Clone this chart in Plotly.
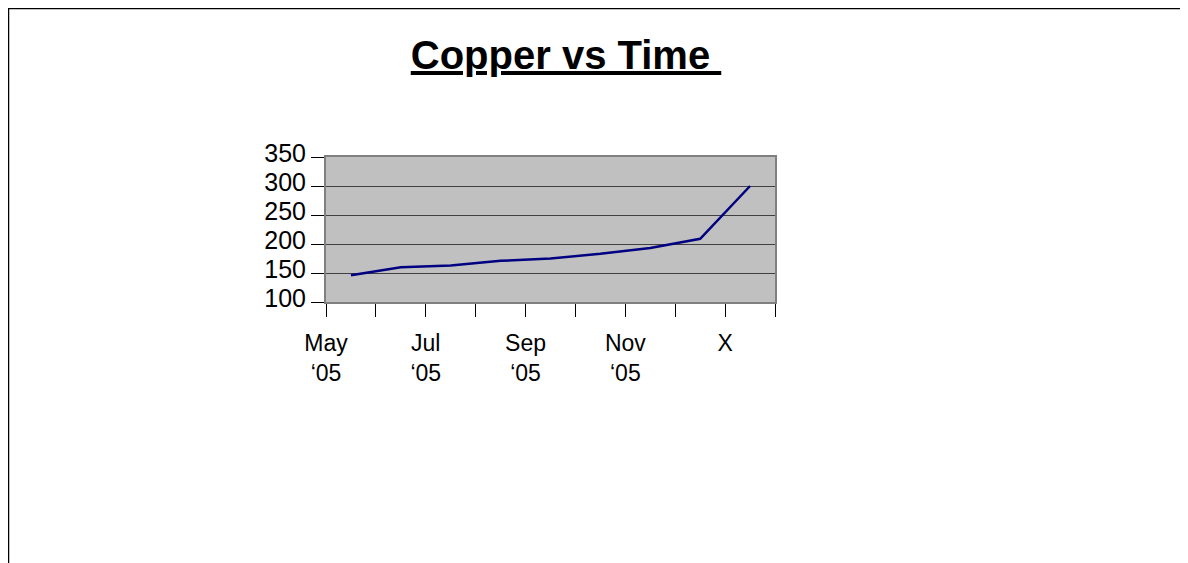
import plotly.graph_objects as go
import numpy as np

months = ["May '05", "Jun '05", "Jul '05", "Aug '05", "Sep '05", "Oct '05", "Nov '05", "Dec '05", "X"]
copper = [146, 160, 163, 171, 175, 183, 193, 209, 300]
x_tick_labels = ["May<br>‘05", "", "Jul<br>‘05", "", "Sep<br>‘05", "", "Nov<br>‘05", "", "X", ""]
y_ticks = [100, 150, 200, 250, 300, 350]

# page body has an 8px margin; lay the figure out in page pixels minus that offset
OFF = 8
W, H = 1188 - OFF, 563 - OFF
L, R, T, B = 326 - OFF, 775 - OFF, 157 - OFF, 302 - OFF

xpos = np.arange(len(copper)) + 0.5

fig = go.Figure()
fig.add_trace(go.Scatter(x=xpos, y=copper, mode="lines", text=months,
                         line=dict(color="#000080", width=2.5), hoverinfo="text+y"))

font = "Arial, 'Liberation Sans', sans-serif"

def px2paper_x(px):
    return (px - L) / (R - L)

def px2paper_y(py):
    return (B - py) / (B - T)

fig.update_layout(
    width=W, height=H,
    margin=dict(l=L, r=W - R, t=T, b=H - B, pad=0),
    paper_bgcolor="white", plot_bgcolor="#C0C0C0",
    showlegend=False,
    font=dict(family=font, color="black"),
    title=dict(text="<b><u>Copper vs Time&nbsp;</u></b>", x=(566 - OFF) / W, xanchor="center",
               y=1 - (55 - OFF) / H, yanchor="middle", yref="container",
               font=dict(size=40, family=font, color="black")),
    xaxis=dict(range=[0, len(copper)], tickmode="array", tickvals=list(range(len(x_tick_labels))),
               ticktext=x_tick_labels, ticks="outside", ticklen=13, tickcolor="black", tickwidth=1,
               showgrid=False, zeroline=False, showline=True, linecolor="#808080", linewidth=2,
               mirror=True, tickfont=dict(size=23, family=font, color="black"),
               ticklabelstandoff=6),
    yaxis=dict(range=[100, 350], tickmode="array", tickvals=y_ticks, ticks="outside", ticklen=13,
               tickcolor="black", tickwidth=1, showgrid=True, gridcolor="#404040", gridwidth=1.3,
               zeroline=False, showline=True, linecolor="#808080", linewidth=2, mirror=True,
               tickfont=dict(size=25, family=font, color="black"), ticklabelshift=-4),
    shapes=[
        dict(type="line", xref="paper", yref="paper", x0=px2paper_x(0), x1=px2paper_x(W),
             y0=px2paper_y(0.5), y1=px2paper_y(0.5), line=dict(color="black", width=1.5)),
        dict(type="line", xref="paper", yref="paper", x0=px2paper_x(0.5), x1=px2paper_x(0.5),
             y0=px2paper_y(0), y1=px2paper_y(H), line=dict(color="black", width=1.5)),
    ],
)

fig.write_html("out.html")
